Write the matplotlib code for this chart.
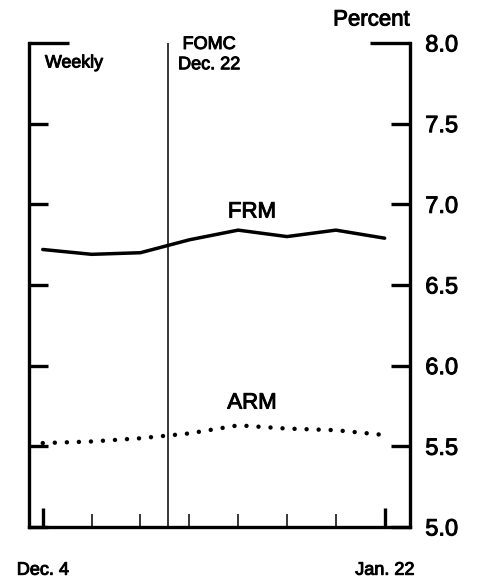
import matplotlib
matplotlib.use("Agg")
import matplotlib.pyplot as plt
import matplotlib.dates as mdates
import matplotlib.patheffects as pe
from matplotlib.ticker import FixedLocator, FixedFormatter
import pandas as pd

plt.rcParams['font.family'] = ['Liberation Sans', 'DejaVu Sans']

dates = pd.to_datetime(["1998-12-04", "1998-12-11", "1998-12-18", "1998-12-25",
                        "1999-01-01", "1999-01-08", "1999-01-15", "1999-01-22"])
frm = [6.72, 6.69, 6.70, 6.78, 6.84, 6.80, 6.84, 6.79]
arm = [5.52, 5.53, 5.55, 5.58, 5.63, 5.61, 5.60, 5.57]
fomc_date = pd.Timestamp("1998-12-22")
y_minor = [5.0, 5.5, 6.0, 6.5, 7.0, 7.5]
y_major = [8.0]
x_end_labels = ["Dec. 4", "Jan. 22"]

heavy = [pe.withStroke(linewidth=0.7, foreground='black')]

fig = plt.figure(figsize=(4.81, 5.80), dpi=100)
ax = fig.add_axes([0.0603, 0.0914, 0.7921, 0.8345])

ax.plot(dates, frm, color='black', lw=2.5, solid_capstyle='round', solid_joinstyle='round')
ax.plot(dates, arm, color='black', lw=3.2, linestyle=(0, (0.01, 2.7)), dash_capstyle='round')
ax.axvline(fomc_date, color='black', lw=1.1)

ax.set_xlim(dates[0] - pd.Timedelta(days=1.97), dates[-1] + pd.Timedelta(days=3.63))
ax.set_ylim(5.0, 8.0)

ax.spines['top'].set_visible(False)
for s in ['left', 'right', 'bottom']:
    ax.spines[s].set_linewidth(2.4)

# y ticks
ax.yaxis.set_major_locator(FixedLocator(y_major))
ax.yaxis.set_major_formatter(FixedFormatter(["%.1f" % v for v in y_major]))
ax.yaxis.set_minor_locator(FixedLocator(y_minor))
ax.yaxis.set_minor_formatter(FixedFormatter(["%.1f" % v for v in y_minor]))
ax.tick_params(axis='y', which='both', direction='in', left=True, right=True,
               labelleft=False, labelright=True, labelsize=17, pad=11, width=2.4, color='black')
ax.tick_params(axis='y', which='major', length=29)
ax.tick_params(axis='y', which='minor', length=14)

# x ticks
weekly = list(mdates.date2num(dates))
ax.xaxis.set_major_locator(FixedLocator([weekly[0], weekly[-1]]))
ax.xaxis.set_major_formatter(FixedFormatter(x_end_labels))
ax.xaxis.set_minor_locator(FixedLocator(weekly[1:-1]))
ax.tick_params(axis='x', which='major', direction='in', length=14, width=2.4,
               labelsize=13, pad=25)
ax.tick_params(axis='x', which='minor', direction='in', length=9.5, width=1.1)

for lab in ax.get_xticklabels() + ax.get_yticklabels(which='both'):
    lab.set_path_effects(heavy)

ax.text(1.0, 1.0475, "Percent", transform=ax.transAxes, ha='right', va='center',
        fontsize=16, path_effects=heavy)
ax.text(0.042, 0.9587, "Weekly", transform=ax.transAxes, ha='left', va='center',
        fontsize=12.8, path_effects=heavy)
ax.text(0.4724, 0.976, "FOMC\nDec. 22", transform=ax.transAxes, ha='center', va='center',
        fontsize=13, linespacing=1.25, path_effects=heavy)
ax.text(pd.Timestamp("1999-01-03"), 6.952, "FRM", ha='center', va='center',
        fontsize=16, path_effects=heavy)
ax.text(pd.Timestamp("1999-01-03"), 5.768, "ARM", ha='center', va='center',
        fontsize=16, path_effects=heavy)

fig.savefig("out.png", dpi=100)
